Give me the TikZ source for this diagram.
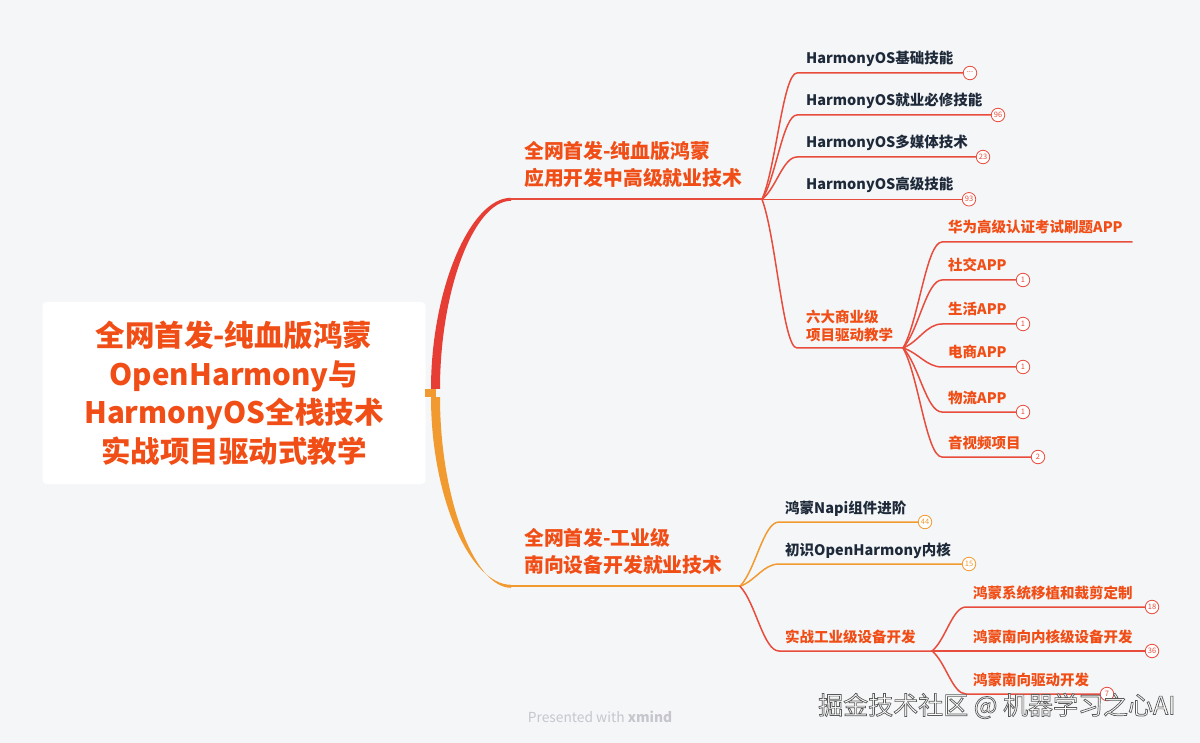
\documentclass[tikz,border=0pt]{standalone}
\usepackage{fontspec}
\setmainfont{Noto Sans CJK SC}
\usetikzlibrary{calc}
\definecolor{bg}{RGB}{245,246,248}
\definecolor{hot}{RGB}{240,78,22}
\definecolor{navy}{RGB}{30,42,58}
\definecolor{redl}{RGB}{232,76,61}
\definecolor{trunkred}{RGB}{230,62,52}
\definecolor{orl}{RGB}{241,154,48}
\definecolor{wm}{RGB}{198,198,204}
\tikzset{
  curvy/.style={to path={let \p1=(\tikztostart), \p2=(\tikztotarget) in
     .. controls (\x1*0.6+\x2*0.4, \y1*0.75+\y2*0.25) and (\x1*0.4+\x2*0.6, \y2) .. (\tikztotarget)}},
  link/.style={line width=1.5pt, line cap=round},
  mainlink/.style={line width=2.2pt, line cap=round},
  topic/.style={inner sep=0pt, anchor=base west, font=\fontsize{14.5}{18.5}\selectfont\bfseries},
  mtopic/.style={inner sep=0pt, anchor=west, align=left, font=\fontsize{14.5}{18.5}\selectfont\bfseries},
  l1topic/.style={inner sep=0pt, anchor=west, align=left, text=hot, font=\fontsize{19.8}{27}\selectfont\bfseries},
  badge/.style={circle, draw, fill=white, inner sep=0pt, minimum size=13.5pt, line width=0.8pt, font=\fontsize{7.5}{7.5}\selectfont},
}
\begin{document}
\begin{tikzpicture}[x=1pt,y=-1pt]
\fill[bg] (0,0) rectangle (1200,743);
\useasboundingbox (0,0) rectangle (1200,743);

% root
\node[fill=white, rounded corners=4pt, minimum width=383pt, minimum height=182pt, inner sep=0pt,
      align=center, text=hot, font=\fontsize{29.5}{38.5}\selectfont\bfseries] (root) at (234,393)
  {全网首发-纯血版鸿蒙\\OpenHarmony与\\HarmonyOS全栈技术\\实战项目驱动式教学};

% trunks
\fill[orl] (425,389) rectangle (436,397);
\fill[trunkred] (431,389) .. controls (431,290) and (470,197.8) .. (511,197.8) -- (511,200.8)
   .. controls (474,200.8) and (440,290) .. (440,389) -- cycle;
\fill[orl] (431,397) .. controls (431,497) and (470,584.8) .. (511,584.8) -- (511,587.8)
   .. controls (474,587.8) and (440,497) .. (440,397) -- cycle;

% level 1
\coordinate (L1s) at (510,199.3);
\coordinate (J1) at (762,199.3);
\coordinate (L2s) at (510,586.3);
\coordinate (J3) at (740,586.3);
\node[l1topic] (app) at (524,164) {全网首发-纯血版鸿蒙\\应用开发中高级就业技术};
\node[l1topic] (dev) at (524,551) {全网首发-工业级\\南向设备开发就业技术};
\draw[mainlink, redl] (L1s) -- (J1);
\draw[mainlink, orl] (L2s) -- (J3);

% J1 children
\node[topic, text=navy] (t11) at (806,64) {HarmonyOS基础技能};
\node[topic, text=navy] (t12) at (806,106) {HarmonyOS就业必修技能};
\node[topic, text=navy] (t13) at (806,148) {HarmonyOS多媒体技术};
\node[topic, text=navy] (t14) at (806,190) {HarmonyOS高级技能};
\node[mtopic, text=hot] (t15) at (806,326) {六大商业级\\项目驱动教学};
\coordinate (s11) at (797,73);
\coordinate (s12) at (797,115);
\coordinate (s13) at (797,157);
\coordinate (s14) at (797,199.3);
\coordinate (s15) at (797,348);
\coordinate (J2) at (903,348);
\node[badge, draw=redl, text=redl] (b11) at (970,73) {\raisebox{0.3em}{...}};
\node[badge, draw=redl, text=redl] (b12) at (998,115) {96};
\node[badge, draw=redl, text=redl] (b13) at (983,157) {23};
\node[badge, draw=redl, text=redl] (b14) at (969,199.3) {93};
\draw[link, redl] (J1) to[curvy] (s11) -- (b11);
\draw[link, redl] (J1) to[curvy] (s12) -- (b12);
\draw[link, redl] (J1) to[curvy] (s13) -- (b13);
\draw[link, redl] (J1) -- (s14) -- (b14);
\draw[link, redl] (J1) to[curvy] (s15) -- (J2);

% J2 children
\node[topic, text=hot] (t21) at (948,233) {华为高级认证考试刷题APP};
\node[topic, text=hot] (t22) at (948,271) {社交APP};
\node[topic, text=hot] (t23) at (948,315) {生活APP};
\node[topic, text=hot] (t24) at (948,358) {电商APP};
\node[topic, text=hot] (t25) at (948,403) {物流APP};
\node[topic, text=hot] (t26) at (948,448) {音视频项目};
\coordinate (s21) at (942,242);
\coordinate (s22) at (942,280);
\coordinate (s23) at (942,324);
\coordinate (s24) at (942,367);
\coordinate (s25) at (942,412);
\coordinate (s26) at (942,457);
\coordinate (e21) at (1132,242);
\node[badge, draw=redl, text=redl] (b22) at (1023,280) {1};
\node[badge, draw=redl, text=redl] (b23) at (1023,324) {1};
\node[badge, draw=redl, text=redl] (b24) at (1023,367) {1};
\node[badge, draw=redl, text=redl] (b25) at (1023,412) {1};
\node[badge, draw=redl, text=redl] (b26) at (1038,457) {2};
\draw[link, redl] (J2) to[curvy] (s21) -- (e21);
\draw[link, redl] (J2) to[curvy] (s22) -- (b22);
\draw[link, redl] (J2) to[curvy] (s23) -- (b23);
\draw[link, redl] (J2) to[curvy] (s24) -- (b24);
\draw[link, redl] (J2) to[curvy] (s25) -- (b25);
\draw[link, redl] (J2) to[curvy] (s26) -- (b26);

% J3 children
\node[topic, text=navy] (t31) at (785,513) {鸿蒙Napi组件进阶};
\node[topic, text=navy] (t32) at (785,555) {初识OpenHarmony内核};
\node[topic, text=hot] (t33) at (785,642) {实战工业级设备开发};
\coordinate (s31) at (779,522);
\coordinate (s32) at (779,564);
\coordinate (s33) at (779,651);
\coordinate (J4) at (932,651);
\node[badge, draw=orl, text=orl] (b31) at (925,522) {44};
\node[badge, draw=orl, text=orl] (b32) at (969,564) {15};
\draw[link, orl] (J3) to[curvy] (s31) -- (b31);
\draw[link, orl] (J3) to[curvy] (s32) -- (b32);
\draw[link, redl] (J3) to[curvy] (s33) -- (J4);

% J4 children
\node[topic, text=hot] (t41) at (973,598) {鸿蒙系统移植和裁剪定制};
\node[topic, text=hot] (t42) at (973,642) {鸿蒙南向内核级设备开发};
\node[topic, text=hot] (t43) at (973,685) {鸿蒙南向驱动开发};
\coordinate (s41) at (966,607);
\coordinate (s42) at (966,651);
\coordinate (s43) at (966,694);
\node[badge, draw=redl, text=redl] (b41) at (1152,607) {18};
\node[badge, draw=redl, text=redl] (b42) at (1152,651) {36};
\node[badge, draw=redl, text=redl] (b43) at (1107,694) {7};
\draw[link, redl] (J4) to[curvy] (s41) -- (b41);
\draw[link, redl] (J4) -- (s42) -- (b42);
\draw[link, redl] (J4) to[curvy] (s43) -- (b43);

% footer
\node[text=wm, inner sep=0pt, font=\fontsize{13.8}{15}\selectfont] (credit) at (600,717) {Presented with \textbf{xmind}};
\node[text=white, inner sep=0pt, anchor=west, font=\fontsize{25}{28}\selectfont] (mark) at (818,706)
  {\special{pdf:literal direct 0.35 0.35 0.35 RG 0.7 w 2 Tr}掘金技术社区 @ 机器学习之心AI\special{pdf:literal direct 0 Tr}};
\end{tikzpicture}
\end{document}
